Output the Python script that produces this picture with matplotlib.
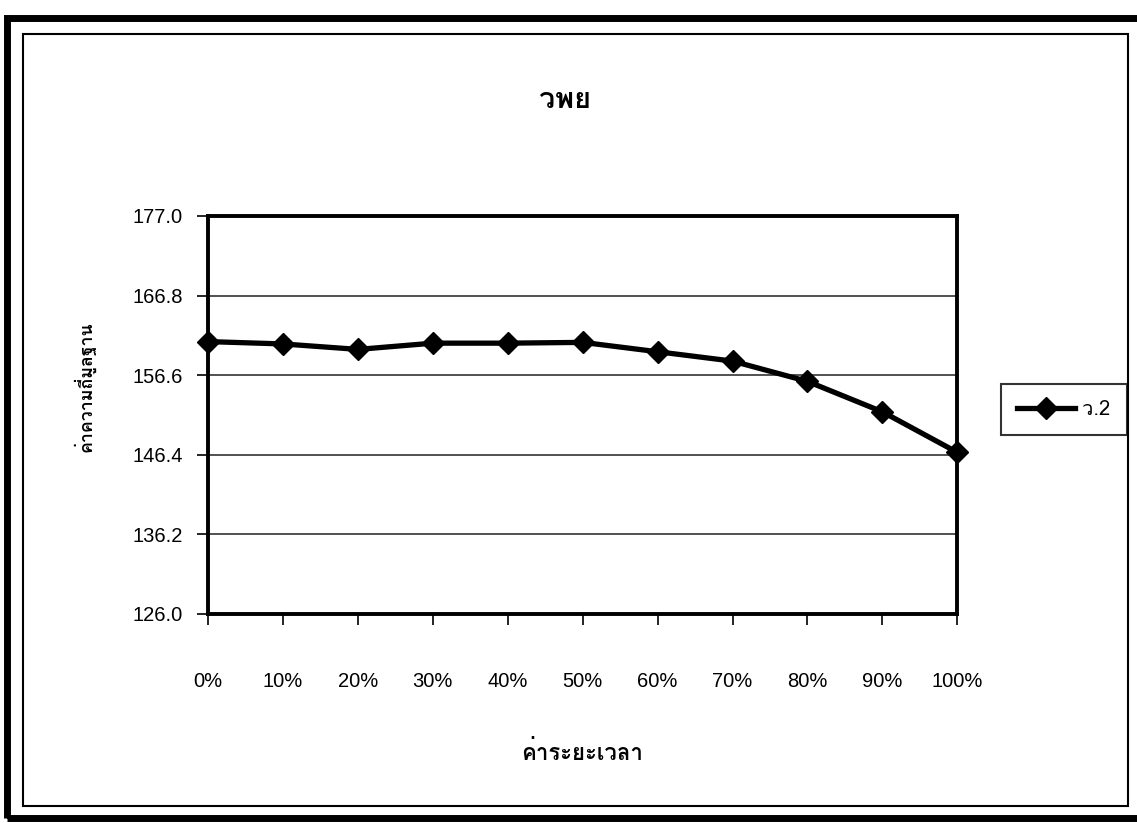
import numpy as np
import matplotlib
matplotlib.use('Agg')
import matplotlib.pyplot as plt
from matplotlib import font_manager
from matplotlib.patches import Rectangle
from matplotlib.ticker import FixedLocator

# data
categories = ['0%', '10%', '20%', '30%', '40%', '50%', '60%', '70%', '80%', '90%', '100%']
values = [160.9, 160.6, 159.9, 160.7, 160.7, 160.8, 159.6, 158.4, 155.8, 151.9, 146.7]
y_ticks = [126.0, 136.2, 146.4, 156.6, 166.8, 177.0]
series_name = 'ว.2'


def find_thai_font():
    # pick an installed font with Thai glyphs, bold sans preferred
    try:
        from fontTools.ttLib import TTFont
    except ImportError:
        return None
    found = []
    for f in font_manager.fontManager.ttflist:
        try:
            cmap = TTFont(f.fname, fontNumber=0, lazy=True).getBestCmap()
        except Exception:
            continue
        if cmap and 0x0E27 in cmap and 0x0E48 in cmap:
            score = 0
            if f.weight in ('bold', 700, 'heavy', 800):
                score += 2
            name = f.name.lower()
            if 'serif' in name or 'norasi' in name or 'kinnari' in name:
                score -= 3
            if 'sans' in name or 'garuda' in name or 'loma' in name:
                score += 1
            found.append((score, f.name))
    if not found:
        return None
    found.sort(key=lambda t: -t[0])
    return found[0][1]


thai = find_thai_font()
latin = 'Liberation Sans'
fam = [thai, latin, 'DejaVu Sans'] if thai else [latin, 'DejaVu Sans']
plt.rcParams['font.family'] = [latin, 'DejaVu Sans']

fig = plt.figure(figsize=(11.37, 8.23), dpi=100)
ax = fig.add_axes([0.183, 0.254, 0.659, 0.4836])

x = np.arange(len(categories))
ax.plot(x, values, color='black', linewidth=3.8, marker='D', markersize=11.5,
        label=series_name, clip_on=False, zorder=5)

ax.set_xlim(0, len(categories) - 1)
ax.set_ylim(y_ticks[0], y_ticks[-1])
ax.yaxis.set_major_locator(FixedLocator(y_ticks))
ax.set_yticklabels(['%.1f' % v for v in y_ticks])
ax.set_xticks(x)
ax.set_xticklabels(categories)
ax.grid(axis='y', color='#333333', linewidth=1.2)
ax.set_axisbelow(True)

for s in ax.spines.values():
    s.set_linewidth(2.8)
    s.set_color('black')

ax.tick_params(axis='both', direction='out', length=8, width=1.2,
               labelsize=14.5, colors='black')
ax.tick_params(axis='x', pad=34)
ax.tick_params(axis='y', pad=10)

title = fig.text(0.497, 0.878, 'วพย', family=fam, fontsize=15,
                 fontweight='bold', ha='center', va='center')
xlab = fig.text(0.512, 0.086, 'ค่าระยะเวลา', family=fam, fontsize=14,
                fontweight='bold', ha='center', va='center')
ylab = fig.text(0.074, 0.53, 'ค่าความถี่มูลฐาน', family=fam, fontsize=14,
                fontweight='bold', rotation=90, ha='center', va='center')

leg = fig.legend(loc='center', bbox_to_anchor=(0.9355, 0.502), frameon=True,
                 fancybox=False, edgecolor='black', handlelength=2.9,
                 handletextpad=0.35, prop={'family': fam, 'size': 14.5},
                 borderpad=0.8, borderaxespad=0)
leg.get_frame().set_linewidth(1.5)

# scale the Thai texts to the sizes seen in the reference (pixels)
fig.canvas.draw()
renderer = fig.canvas.get_renderer()
for txt, target, use_h in [(title, 52, False), (xlab, 122, False), (ylab, 130, True)]:
    bb = txt.get_window_extent(renderer)
    cur = bb.height if use_h else bb.width
    if cur > 0:
        txt.set_fontsize(txt.get_fontsize() * target / cur)

# outer frames of the chart area
fig.patches.append(Rectangle((7 / 1137, 5 / 823), 1.1, 1 - 23 / 823,
                             transform=fig.transFigure, fill=False,
                             edgecolor='black', linewidth=5))
fig.patches.append(Rectangle((23 / 1137, 17 / 823), 1105 / 1137, 772 / 823,
                             transform=fig.transFigure, fill=False,
                             edgecolor='black', linewidth=1.5))

fig.savefig('out.png', dpi=100)
